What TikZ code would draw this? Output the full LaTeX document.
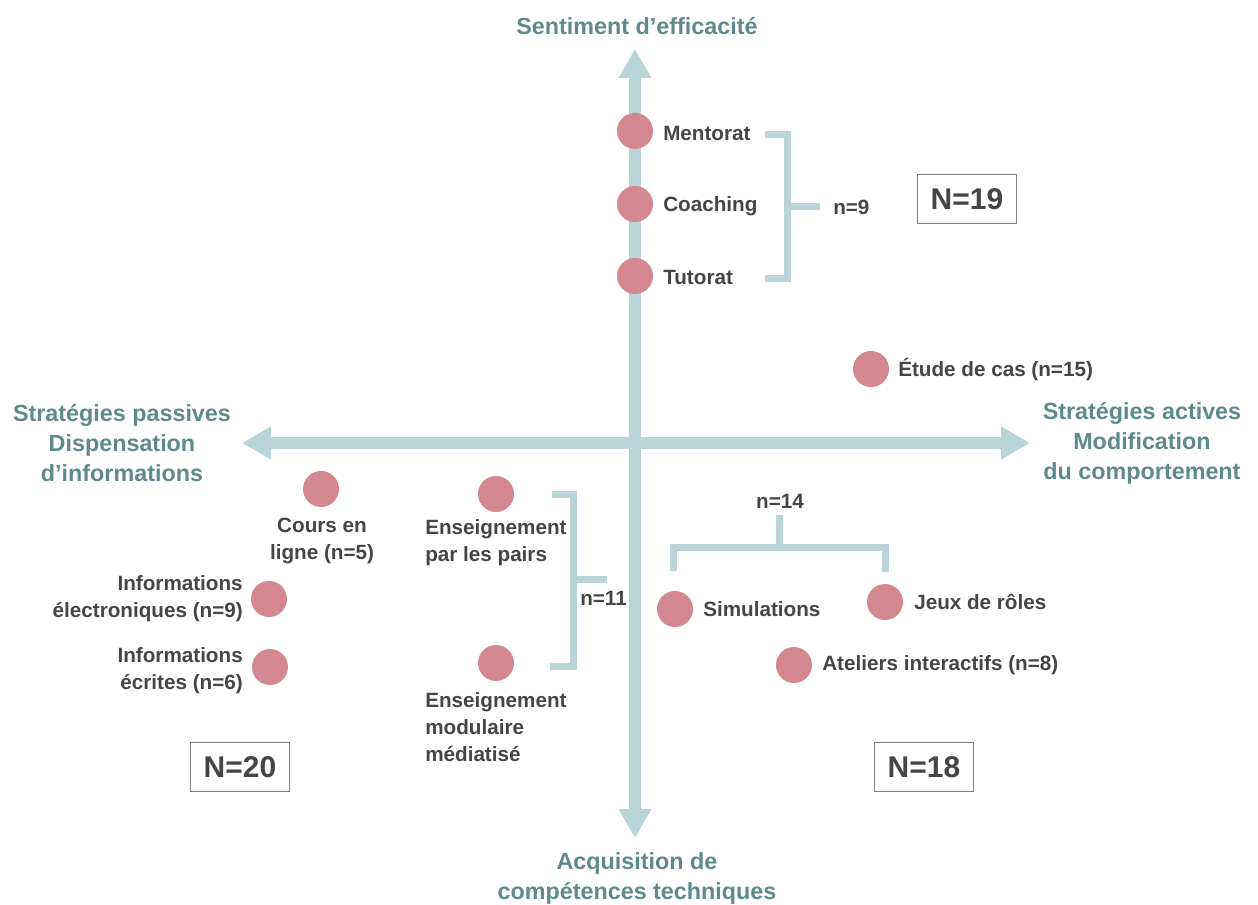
\documentclass[tikz,border=0pt]{standalone}
\usepackage{fontspec}
\setmainfont{Liberation Sans}
\usetikzlibrary{arrows.meta}
\definecolor{axisc}{HTML}{B9D5D8}
\definecolor{axtxt}{HTML}{5E8A8C}
\definecolor{dotc}{HTML}{D38790}
\definecolor{txt}{HTML}{454545}
\begin{document}
\begin{tikzpicture}[x=0.75pt,y=-0.75pt,
  dot/.style={circle, fill=dotc, minimum size=27pt, inner sep=0pt},
  lbl/.style={font=\bfseries\fontsize{15.5}{20.25}\selectfont, text=txt, inner sep=0pt},
  axlbl/.style={font=\bfseries\fontsize{17.5}{22.5}\selectfont, text=axtxt, align=center, inner sep=0pt},
  brk/.style={draw=axisc, line width=5.25pt},
  axisline/.style={draw=axisc, line width=9pt, {Triangle[width=23.25pt,length=21.75pt]}-{Triangle[width=23.25pt,length=21.75pt]}},
  bignum/.style={draw=gray, line width=0.75pt, font=\bfseries\fontsize{22.5}{27}\selectfont, text=txt, minimum width=74pt, minimum height=37pt, inner sep=0pt}]
\useasboundingbox (0,0) rectangle (1258,905);
% axes
\coordinate (vtop) at (635,49);
\coordinate (vbot) at (635,838);
\coordinate (hl) at (242,443);
\coordinate (hr) at (1030,443);
\draw[axisline] (vbot) -- (vtop);
\draw[axisline] (hl) -- (hr);
% axis labels
\node[axlbl] (top) at (637,26) {Sentiment d’efficacité};
\node[axlbl] (bot) at (637,878) {Acquisition de\\compétences techniques};
\node[axlbl] (left) at (122,443) {Stratégies passives\\Dispensation\\d’informations};
\node[axlbl] (right) at (1142,443) {Stratégies actives\\Modification\\du comportement};
% brackets
\draw[brk] (765,135) -- (787,135) -- (787,279) -- (765,279);
\draw[brk] (787,207) -- (820,207);
\draw[brk] (552,495) -- (573,495) -- (573,667) -- (550,667);
\draw[brk] (573,580) -- (607,580);
\draw[brk] (673,571) -- (673,548) -- (885,548) -- (885,572);
\draw[brk] (779,548) -- (779,515);
% dots
\node[dot] (d1) at (635,131) {};
\node[dot] (d2) at (635,204) {};
\node[dot] (d3) at (635,276) {};
\node[dot] (d4) at (871,369) {};
\node[dot] (d5) at (321,489) {};
\node[dot] (d6) at (269,599) {};
\node[dot] (d7) at (270,667) {};
\node[dot] (d8) at (496,494) {};
\node[dot] (d9) at (496,663) {};
\node[dot] (d10) at (675,609) {};
\node[dot] (d11) at (885,602) {};
\node[dot] (d12) at (794,665) {};
% labels
\node[lbl,anchor=west] (l1) at (663,133) {Mentorat};
\node[lbl,anchor=west] (l2) at (663,206) {Coaching};
\node[lbl,anchor=west] (l3) at (663,277) {Tutorat};
\node[lbl,anchor=west] (n9) at (833,207) {n=9};
\node[lbl,anchor=west] (l4) at (898,369) {Étude de cas (n=15)};
\node[lbl,align=center] (l5) at (322,541) {Cours en\\ligne (n=5)};
\node[lbl,align=right,anchor=east] (l6) at (243,599) {Informations\\électroniques (n=9)};
\node[lbl,align=right,anchor=east] (l7) at (243,671) {Informations\\écrites (n=6)};
\node[lbl,align=left,anchor=west] (l8) at (425,543) {Enseignement\\par les pairs};
\node[lbl,align=left,anchor=west] (l9) at (425,727) {Enseignement\\modulaire\\médiatisé};
\node[lbl,anchor=west] (n11) at (580,598) {n=11};
\node[lbl] (n14) at (780,501) {n=14};
\node[lbl,anchor=west] (l10) at (703,609) {Simulations};
\node[lbl,anchor=west] (l11) at (914,602) {Jeux de rôles};
\node[lbl,anchor=west] (l12) at (822,665) {Ateliers interactifs (n=8)};
% totals
\node[bignum] (N19) at (967,199) {N=19};
\node[bignum] (N20) at (240,767) {N=20};
\node[bignum] (N18) at (924,767) {N=18};
\end{tikzpicture}
\end{document}
